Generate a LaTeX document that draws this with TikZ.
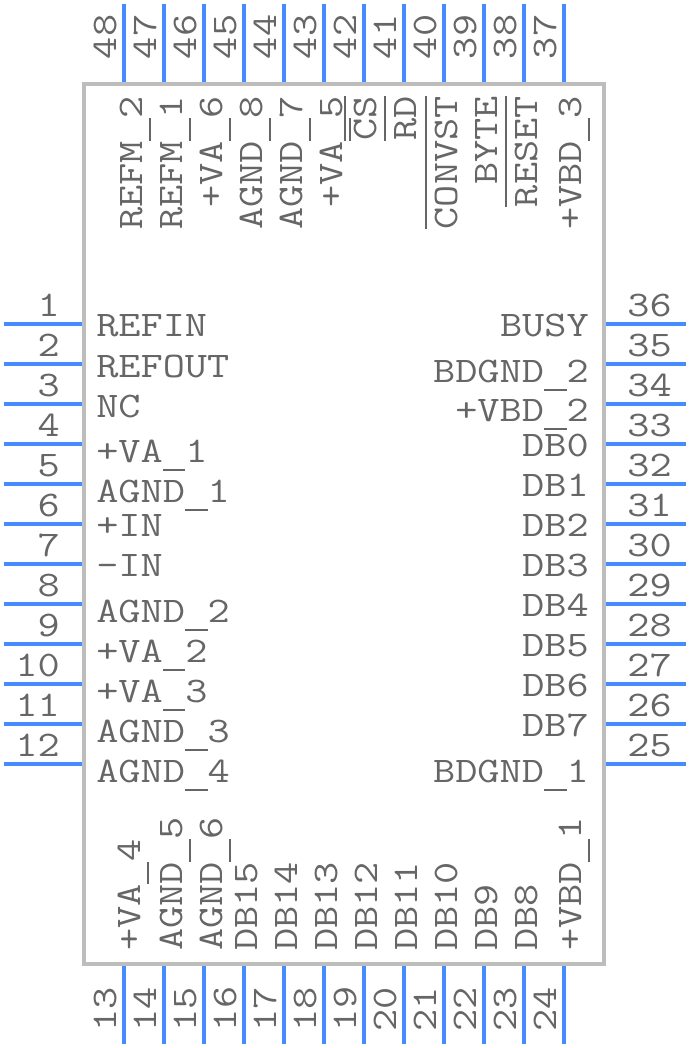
\documentclass[tikz,border=0pt]{standalone}
\usepackage{fontspec}
\newfontfamily\pinfont{Latin Modern Mono}[FakeStretch=1.196]
\definecolor{pinblue}{HTML}{468CFF}
\definecolor{bodygray}{HTML}{BDBDBD}
\definecolor{textgray}{HTML}{666666}
\newcommand\pinbar[1]{\setbox0\hbox{#1}\rlap{\rule[22.5pt]{\wd0}{1.7pt}}\box0}
\newcommand\pinus{\rule[-6.8pt]{16.95pt}{1.7pt}}
\tikzset{
    pinline/.style={draw=pinblue,line width=3pt},
    chipbody/.style={draw=bodygray,line width=2.6pt,minimum width=390pt,minimum height=660pt,inner sep=0pt},
    pintext/.style={text=textgray,font=\pinfont\fontsize{27pt}{27pt}\selectfont,inner sep=0pt},
    pinnum/.style={pintext,anchor=base east},
    vnum/.style={pintext,anchor=base,rotate=90},
    leftlabel/.style={pintext,anchor=base west},
    rightlabel/.style={pintext,anchor=base east},
    toplabel/.style={pintext,anchor=base east,rotate=90},
    botlabel/.style={pintext,anchor=base west,rotate=90}
}
\begin{document}
\begin{tikzpicture}[x=0.75pt,y=-0.75pt]
    \useasboundingbox (0,0) rectangle (688,1048);
    \node[chipbody] (chip) at (344,524) {};
    \foreach \i in {1,...,12}{
        \coordinate (a\i) at (4,284+40*\i);
        \coordinate (b\i) at (82,284+40*\i);
        \draw[pinline] (a\i) -- (b\i);
        \node[pinnum] (n\i) at (60,276+40*\i) {\i};
    }
    \foreach \i in {13,...,24}{
        \coordinate (a\i) at (124+40*\i-520,966);
        \coordinate (b\i) at (124+40*\i-520,1044);
        \draw[pinline] (a\i) -- (b\i);
        \node[vnum] (n\i) at (116+40*\i-520,1009) {\i};
    }
    \foreach \i in {25,...,36}{
        \coordinate (a\i) at (606,764-40*\i+1000);
        \coordinate (b\i) at (686,764-40*\i+1000);
        \draw[pinline] (a\i) -- (b\i);
        \node[pinnum] (n\i) at (672,756-40*\i+1000) {\i};
    }
    \foreach \i in {37,...,48}{
        \coordinate (a\i) at (564-40*\i+1480,4);
        \coordinate (b\i) at (564-40*\i+1480,82);
        \draw[pinline] (a\i) -- (b\i);
        \node[vnum] (n\i) at (556-40*\i+1480,37) {\i};
    }
    \foreach \k/\y/\t in {a/336/REFIN,b/377/REFOUT,c/417/NC,d/462/+VA\pinus 1,e/502/AGND\pinus 1,
            f/536/+IN,g/576/-IN,h/622/AGND\pinus 2,i/662/+VA\pinus 2,j/702/+VA\pinus 3,k/742/AGND\pinus 3,l/782/AGND\pinus 4}
        \node[leftlabel] (l\k) at (96,\y) {\t};
    \foreach \k/\y/\t in {a/336/BUSY,b/382/BDGND\pinus 2,c/421/+VBD\pinus 2,d/456/DB0,e/496/DB1,f/536/DB2,
            g/576/DB3,h/616/DB4,i/656/DB5,j/696/DB6,k/736/DB7,l/782/BDGND\pinus 1}
        \node[rightlabel] (r\k) at (589,\y) {\t};
    \foreach \k/\x/\t in {a/142/REFM\pinus 2,b/182/REFM\pinus 1,c/222/+VA\pinus 6,d/262/AGND\pinus 8,e/302/AGND\pinus 7,f/342/+VA\pinus 5,
            g/376/\pinbar{CS},h/416/\pinbar{RD},i/457/\pinbar{CONVST},j/497/BYTE,k/537/\pinbar{RESET},l/581/+VBD\pinus 3}
        \node[toplabel] (t\k) at (\x,96) {\t};
    \foreach \k/\x/\t in {a/140/+VA\pinus 4,b/182/AGND\pinus 5,c/222/AGND\pinus 6,d/257/DB15,e/297/DB14,f/337/DB13,
            g/377/DB12,h/417/DB11,i/457/DB10,j/497/DB9,k/537/DB8,l/581/+VBD\pinus 1}
        \node[botlabel] (s\k) at (\x,951) {\t};
\end{tikzpicture}
\end{document}
